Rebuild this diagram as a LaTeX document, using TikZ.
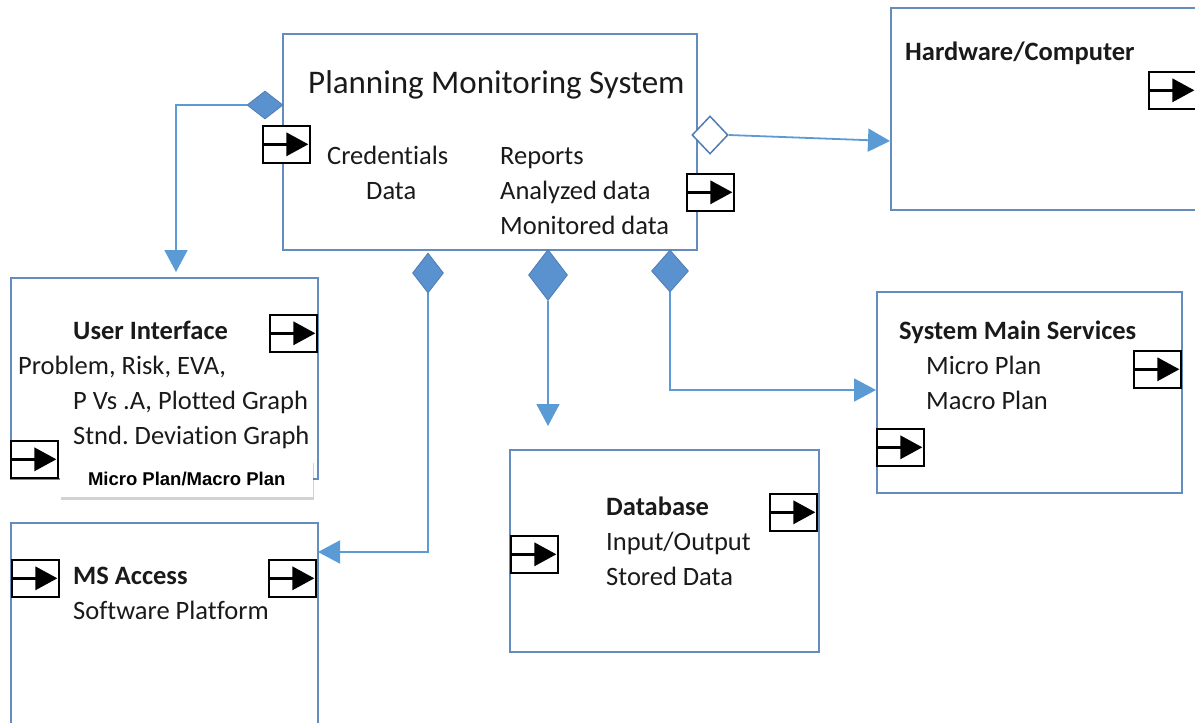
\documentclass[tikz,border=0pt]{standalone}
\usepackage{fontspec}
\setmainfont{Carlito}[Ligatures=NoCommon]
\newfontfamily\arialfont{Liberation Sans}
\usetikzlibrary{shapes.geometric,arrows.meta,shadows}
\definecolor{boxblue}{HTML}{658CBE}
\definecolor{linkblue}{HTML}{5B9BD5}
\definecolor{dfill}{HTML}{5A92CF}
\definecolor{dline}{HTML}{4F7DB3}
\definecolor{txt}{HTML}{1A1A1A}
\frenchspacing
\begin{document}
\begin{tikzpicture}[x=1pt,y=-1pt,
  box/.style={draw=boxblue,line width=1.8pt,fill=white,anchor=north west,inner sep=0pt},
  port/.style={draw=black,line width=1.6pt,fill=white,minimum width=47pt,minimum height=37pt,
    anchor=north west,inner sep=0pt,
    path picture={
      \draw[black,line width=3pt] (path picture bounding box.west) -- ([xshift=-14pt]path picture bounding box.east);
      \fill[black] ([xshift=-1.5pt]path picture bounding box.east) -- ++(-22pt,-12pt) -- ++(0pt,24pt) -- cycle;}},
  fdiam/.style={diamond,fill=dfill,draw=dline,line width=0.8pt,inner sep=0pt},
  odiam/.style={diamond,fill=white,draw=dline,line width=1.5pt,inner sep=0pt},
  link/.style={draw=linkblue,line width=1.8pt},
  arr/.style={-{Triangle[width=23pt,length=22pt]}},
  lbl/.style={font=\fontsize{26.5}{30}\selectfont,text=txt,anchor=base west,inner sep=0pt},
  blbl/.style={lbl,font=\fontsize{26.5}{30}\selectfont\bfseries},
  callout/.style={draw=none,fill=white,anchor=north west,inner sep=0pt,
    drop shadow={shadow xshift=1pt,shadow yshift=-3pt,opacity=0.25,fill=black!70}},
]
\useasboundingbox (0,0) rectangle (1195,723);

% boxes
\node[box,minimum width=414pt,minimum height=216pt] (pms) at (282,33) {};
\node[box,minimum width=312pt,minimum height=202pt] (hw) at (890,7) {};
\node[box,minimum width=307pt,minimum height=201pt] (ui) at (10,277) {};
\node[box,minimum width=305pt,minimum height=201pt] (sms) at (876,291) {};
\node[box,minimum width=309pt,minimum height=202pt] (db) at (509,449) {};
\node[box,minimum width=307pt,minimum height=215pt] (msa) at (10,522) {};

% diamonds
\node[fdiam,minimum width=36pt,minimum height=28pt] (d1) at (265,105) {};
\node[odiam,minimum width=36pt,minimum height=38pt] (d2) at (710,135) {};
\node[fdiam,minimum width=31pt,minimum height=40pt] (d3) at (428,273) {};
\node[fdiam,minimum width=39pt,minimum height=51pt] (d4) at (548,275) {};
\node[fdiam,minimum width=37pt,minimum height=42pt] (d5) at (670,271) {};

% connector ends
\coordinate (c1) at (176,105);
\coordinate (c2) at (890,141);
\coordinate (c3) at (318,552);
\coordinate (c4) at (548,426);
\coordinate (c5) at (876,390);

\draw[link,arr,shorten >=5pt] (d1.west) -- (c1) -- (c1 |- ui.north);
\draw[link,arr] (d2.east) -- (c2);
\draw[link,arr] (d3.south) |- (c3);
\draw[link,arr] (d4.south) -- (c4);
\draw[link,arr] (d5.south) |- (c5);

% ports
\node[port] (p1) at (262,125) {};
\node[port] (p2) at (686,173) {};
\node[port] (p3) at (1148,71) {};
\node[port] (p4) at (269,314) {};
\node[port] (p5) at (10,440) {};
\node[port] (p6) at (1133,350) {};
\node[port] (p7) at (876,428) {};
\node[port] (p8) at (769,493) {};
\node[port] (p9) at (510,535) {};
\node[port] (p10) at (11,559) {};
\node[port] (p11) at (268,559) {};

% texts
\node[lbl,font=\fontsize{33}{36}\selectfont] (t1) at (308,93) {Planning Monitoring System};
\node[lbl] (t2) at (327,164) {Credentials};
\node[lbl] (t3) at (366,199) {Data};
\node[lbl] (t4) at (500,164) {Reports};
\node[lbl] (t5) at (500,199) {Analyzed data};
\node[lbl] (t6) at (500,234) {Monitored data};
\node[blbl] (t7) at (905,60) {Hardware/Computer};
\node[blbl] (t8) at (73,339) {User Interface};
\node[lbl] (t9) at (18,374) {Problem, Risk, EVA,};
\node[lbl] (t10) at (73,409) {P Vs .A, Plotted Graph};
\node[lbl] (t11) at (73,444) {Stnd. Deviation Graph};
\node[blbl] (t12) at (899,339) {System Main Services};
\node[lbl] (t13) at (926,374) {Micro Plan};
\node[lbl] (t14) at (926,409) {Macro Plan};
\node[blbl] (t15) at (606,515) {Database};
\node[lbl] (t16) at (606,550) {Input/Output};
\node[lbl] (t17) at (606,585) {Stored Data};
\node[blbl] (t18) at (73,584) {MS Access};
\node[lbl] (t19) at (73,619) {Software Platform};

% callout
\node[callout,minimum width=253pt,minimum height=37pt] (co) at (60,460) {};
\node[font=\arialfont\bfseries\fontsize{18.5}{21}\selectfont,text=black,inner sep=0pt] (t20) at (co.center) {Micro Plan/Macro Plan};
\end{tikzpicture}
\end{document}
